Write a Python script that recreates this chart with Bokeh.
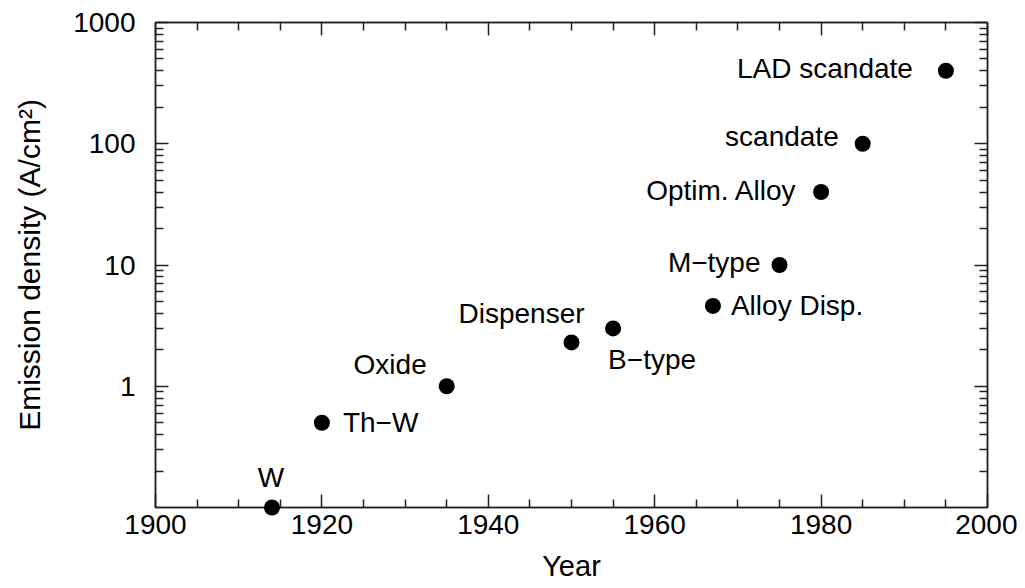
from bokeh.plotting import figure
from bokeh.models import (LogAxis, LinearAxis, FixedTicker, ColumnDataSource,
                          Range1d, CustomJSTickFormatter)
from bokeh.core.properties import value
from bokeh.embed import file_html
from bokeh.resources import INLINE

# ---- data -------------------------------------------------------------
years = [1914, 1920, 1935, 1950, 1955, 1967, 1975, 1980, 1985, 1995]
density = [0.1, 0.5, 1.0, 2.3, 3.0, 4.6, 10.0, 40.0, 100.0, 400.0]
names = ["W", "Th\u2212W", "Oxide", "Dispenser", "B\u2212type", "Alloy Disp.",
         "M\u2212type", "Optim. Alloy", "scandate", "LAD scandate"]

x_ticks = [1900, 1920, 1940, 1960, 1980, 2000]
x_minor = [y for y in range(1900, 2001, 5) if y % 20 != 0]
y_ticks = [1, 10, 100, 1000]
y_tick_labels = ["1", "10", "100", "1000"]
y_minor = [k * 10.0 ** e for e in range(-1, 3) for k in range(2, 10)]

# ---- label placement (layout only: anchor, pixel offsets) -------------
label_layout = {
    "W": ("center", -1, -30),
    "Th\u2212W": ("left", 21, 0),
    "Oxide": ("right", -20, -22),
    "Dispenser": ("center", -50, -29),
    "B\u2212type": ("left", -5, 31),
    "Alloy Disp.": ("left", 18, 0),
    "M\u2212type": ("right", -19, -3),
    "Optim. Alloy": ("right", -24, -2),
    "scandate": ("right", -24, -7),
    "LAD scandate": ("right", -33, -2),
}

FONT = "Liberation Sans"
TXT = "28px"
TICK = "28px"

p = figure(frame_width=832, frame_height=485,
           x_range=Range1d(1900, 2000), y_range=Range1d(0.1, 1000),
           y_axis_type="log", output_backend="svg", toolbar_location=None,
           min_border_left=155, min_border_top=22, min_border_right=30,
           min_border_bottom=81)
p.grid.visible = False
p.outline_line_color = "#222222"
p.outline_line_width = 1.5
p.background_fill_color = "white"
p.border_fill_color = "white"

xt = FixedTicker(ticks=x_ticks, minor_ticks=x_minor)
yt = FixedTicker(ticks=y_ticks, minor_ticks=y_minor)


def style(ax, show_labels):
    ax.axis_line_color = "#222222"
    ax.axis_line_width = 1.5
    ax.major_tick_line_color = "#222222"
    ax.minor_tick_line_color = "#222222"
    ax.major_tick_line_width = 1.5
    ax.minor_tick_line_width = 1.5
    ax.major_tick_in = 13
    ax.major_tick_out = 0
    ax.minor_tick_in = 8
    ax.minor_tick_out = 0
    ax.major_label_text_font = FONT
    ax.major_label_text_color = "black"
    ax.axis_label_text_font = FONT
    ax.axis_label_text_font_style = "normal"
    ax.axis_label_text_color = "black"
    if show_labels:
        ax.major_label_text_font_size = TICK
    else:
        ax.major_label_text_font_size = "0px"
        ax.major_label_standoff = 0


# bottom axis
xa = p.xaxis[0]
xa.ticker = xt
style(xa, True)
xa.axis_label = "Year"
xa.axis_label_text_font_size = "29px"
xa.major_label_standoff = 7
xa.axis_label_standoff = 13

# left axis
ya = p.yaxis[0]
ya.ticker = yt
style(ya, True)
ya.major_label_overrides = {t: l for t, l in zip(y_ticks, y_tick_labels)}
ya.axis_label = "Emission density (A/cm\u00b2)"
ya.axis_label_text_font_size = "30px"
ya.major_label_standoff = 20
ya.axis_label_standoff = 24

# mirrored axes (ticks only)
top = LinearAxis(ticker=FixedTicker(ticks=x_ticks, minor_ticks=x_minor))
style(top, False)
top.formatter = CustomJSTickFormatter(code="return ''")
p.add_layout(top, "above")

right = LogAxis(ticker=FixedTicker(ticks=y_ticks, minor_ticks=y_minor))
style(right, False)
right.formatter = CustomJSTickFormatter(code="return ''")
p.add_layout(right, "right")

# points (drawn on the overlay level so the one on the axis is not clipped)
pts = ColumnDataSource(data=dict(x=years, y=density))
p.scatter("x", "y", source=pts, size=16, fill_color="black",
          line_color="black", line_width=0, level="overlay")

# labels, grouped by anchor
for anchor in ("left", "right", "center"):
    sel = [i for i, n in enumerate(names) if label_layout[n][0] == anchor]
    src = ColumnDataSource(data=dict(
        x=[years[i] for i in sel],
        y=[density[i] for i in sel],
        t=[names[i] for i in sel],
        dx=[label_layout[names[i]][1] for i in sel],
        dy=[label_layout[names[i]][2] for i in sel],
    ))
    p.text("x", "y", text="t", x_offset="dx", y_offset="dy", source=src,
           text_align=anchor, text_baseline="middle",
           text_font=value(FONT), text_font_size=TXT, text_color="black")

open("out.html", "w").write(file_html(p, INLINE))
